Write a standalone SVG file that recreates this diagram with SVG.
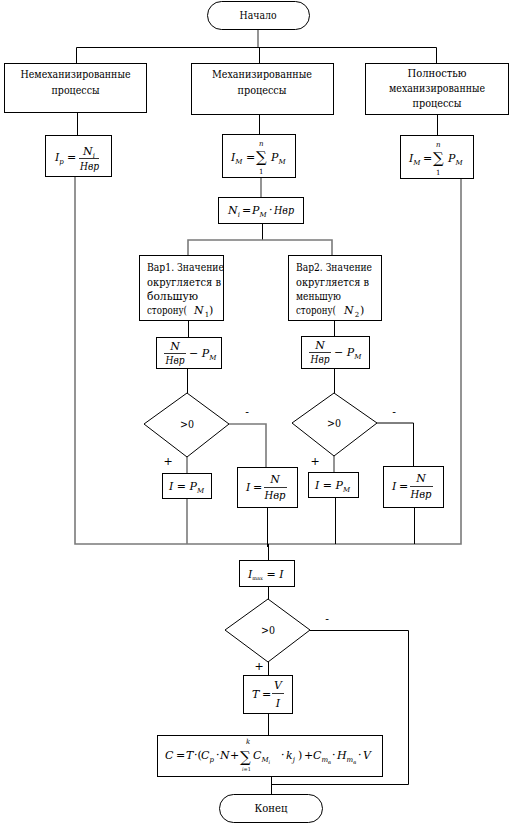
<svg xmlns="http://www.w3.org/2000/svg" width="518" height="829" viewBox="0 0 518 829">
<style>
text{font-family:"DejaVu Serif",serif;fill:#000}
.b{fill:#fff;stroke:#000;stroke-width:1}
.c{fill:none;stroke:#000;stroke-width:1}
.g{fill:none;stroke:#7a7a7a;stroke-width:1.6}
.t{font-size:11px}
.m{font-size:11px;font-style:italic}
.s{font-size:7px}
.r{font-style:normal}
.big{font-size:15px;font-style:normal}
.tiny{font-size:5px}
.fl{stroke:#000;stroke-width:0.8}
</style>
<rect width="518" height="829" fill="#fff"/>
<g id="connectors">
<path class="g" d="M258 29V48"/>
<path class="c" d="M76.5 47.5H436.5M76.5 47.5V63M259.5 47.5V63M436.5 47.5V63"/>
<path class="c" d="M77.5 112V135M259.5 114V134M437.5 114V135"/>
<path class="g" d="M75 176V544H461V178"/>
<path class="g" d="M261 177V197"/>
<path class="c" d="M262.5 223V240"/>
<path class="g" d="M188 255V240H332V255"/>
<path class="c" d="M188.5 320V337M334.5 320V336"/>
<path class="c" d="M187.5 368V393M334.5 368V393"/>
<path class="g" d="M229 424H266V467"/>
<path class="c" d="M377 423H413.5V466"/>
<path class="g" d="M187 457V473M334 456V472"/>
<path class="g" d="M187 498V544"/>
<path class="c" d="M267.5 507V547M335.5 497V544M414.5 507V544"/>
<path class="c" d="M268.5 544V560M268.5 586V599"/>
<path class="c" d="M310 630.5H408.5V784.5H271.5"/>
<path class="c" d="M268.5 662V675M268.5 713V735M271.5 776V794"/>
</g>
<g id="start">
<rect class="b" x="207.5" y="1.5" width="102" height="28" rx="14"/>
<text class="t" x="258" y="19" text-anchor="middle" textLength="37" lengthAdjust="spacingAndGlyphs">Начало</text>
</g>
<g id="box-nonmech">
<rect class="b" x="4.5" y="63.5" width="142" height="49"/>
<text class="t" x="75.5" y="78" text-anchor="middle" textLength="110" lengthAdjust="spacingAndGlyphs">Немеханизированные</text>
<text class="t" x="75.5" y="94" text-anchor="middle" textLength="48" lengthAdjust="spacingAndGlyphs">процессы</text>
</g>
<g id="box-mech">
<rect class="b" x="191.5" y="63.5" width="142" height="51"/>
<text class="t" x="262" y="78" text-anchor="middle" textLength="100" lengthAdjust="spacingAndGlyphs">Механизированные</text>
<text class="t" x="262" y="94" text-anchor="middle" textLength="49" lengthAdjust="spacingAndGlyphs">процессы</text>
</g>
<g id="box-fullmech">
<rect class="b" x="365.5" y="63.5" width="143" height="51"/>
<text class="t" x="437" y="77" text-anchor="middle" textLength="59" lengthAdjust="spacingAndGlyphs">Полностью</text>
<text class="t" x="437" y="92" text-anchor="middle" textLength="96" lengthAdjust="spacingAndGlyphs">механизированные</text>
<text class="t" x="437" y="107" text-anchor="middle" textLength="49" lengthAdjust="spacingAndGlyphs">процессы</text>
</g>
<g id="f-ip">
<rect class="b" x="45.5" y="135.5" width="66" height="41"/>
<text class="m" x="55" y="161">I<tspan class="s" dy="3">р</tspan></text>
<text class="m r" x="67" y="161">=</text>
<text class="m" x="83" y="155">N<tspan class="s" dy="3">i</tspan></text>
<line class="fl" x1="79" y1="158.5" x2="99" y2="158.5"/>
<text class="m" x="80" y="170" textLength="19" lengthAdjust="spacingAndGlyphs">Hвр</text>
</g>
<g id="f-im-mid">
<rect class="b" x="222.5" y="134.5" width="73" height="43"/>
<text class="m" x="231" y="161">I<tspan class="s" dy="3">M</tspan></text>
<text class="m r" x="246" y="161">=</text>
<text class="big" x="256" y="162">∑</text>
<text class="m s" x="259" y="146">n</text>
<text class="m s r" x="259" y="174">1</text>
<text class="m" x="271" y="161">P<tspan class="s" dy="3">M</tspan></text>
</g>
<g id="f-im-right">
<rect class="b" x="400.5" y="135.5" width="73" height="43"/>
<text class="m" x="409" y="162">I<tspan class="s" dy="3">M</tspan></text>
<text class="m r" x="423" y="162">=</text>
<text class="big" x="433" y="163">∑</text>
<text class="m s" x="436" y="147">n</text>
<text class="m s r" x="436" y="175">1</text>
<text class="m" x="448" y="162">P<tspan class="s" dy="3">M</tspan></text>
</g>
<g id="f-ni">
<rect class="b" x="218.5" y="197.5" width="85" height="26"/>
<text class="m" x="228" y="214">N<tspan class="s" dy="3">i</tspan></text>
<text class="m r" x="242" y="214">=</text>
<text class="m" x="252" y="214">P<tspan class="s" dy="3">M</tspan></text>
<text class="m r" x="269" y="214">·</text>
<text class="m" x="274" y="214" textLength="20" lengthAdjust="spacingAndGlyphs">Hвр</text>
</g>
<g id="var1">
<rect class="b" x="139.5" y="255.5" width="84" height="65"/>
<text class="t" x="147" y="271" textLength="77" lengthAdjust="spacingAndGlyphs">Вар1. Значение</text>
<text class="t" x="147" y="286" textLength="74" lengthAdjust="spacingAndGlyphs">округляется в</text>
<text class="t" x="147" y="300" textLength="51" lengthAdjust="spacingAndGlyphs">большую</text>
<text class="t" x="147" y="314" textLength="40" lengthAdjust="spacingAndGlyphs">сторону(</text>
<text class="m" x="194" y="314">N<tspan class="s r" dx="1" dy="3">1</tspan></text>
<text class="t" x="209" y="314">)</text>
</g>
<g id="var2">
<rect class="b" x="288.5" y="255.5" width="93" height="65"/>
<text class="t" x="296" y="271" textLength="76" lengthAdjust="spacingAndGlyphs">Вар2. Значение</text>
<text class="t" x="296" y="286" textLength="73" lengthAdjust="spacingAndGlyphs">округляется в</text>
<text class="t" x="296" y="300" textLength="45" lengthAdjust="spacingAndGlyphs">меньшую</text>
<text class="t" x="296" y="314" textLength="40" lengthAdjust="spacingAndGlyphs">сторону(</text>
<text class="m" x="344" y="314">N<tspan class="s r" dx="1" dy="3">2</tspan></text>
<text class="t" x="360" y="314">)</text>
</g>
<g id="f-diff-left">
<rect class="b" x="156.5" y="337.5" width="65" height="31"/>
<text class="m" x="175" y="350" text-anchor="middle">N</text>
<line class="fl" x1="164" y1="353.5" x2="186" y2="353.5"/>
<text class="m" x="175" y="364" text-anchor="middle" textLength="19" lengthAdjust="spacingAndGlyphs">Hвр</text>
<text class="m" x="189" y="357"><tspan class="r">−</tspan> P<tspan class="s" dy="3">M</tspan></text>
</g>
<g id="f-diff-right">
<rect class="b" x="301.5" y="336.5" width="68" height="32"/>
<text class="m" x="320" y="349" text-anchor="middle">N</text>
<line class="fl" x1="309" y1="352.5" x2="331" y2="352.5"/>
<text class="m" x="320" y="363" text-anchor="middle" textLength="19" lengthAdjust="spacingAndGlyphs">Hвр</text>
<text class="m" x="334" y="356"><tspan class="r">−</tspan> P<tspan class="s" dy="3">M</tspan></text>
</g>
<g id="dec-left">
<polygon class="b" points="187,393 229,424 187,457 144,424"/>
<text class="t" x="187" y="428" text-anchor="middle" textLength="14" lengthAdjust="spacingAndGlyphs">&gt;0</text>
<text class="t" x="168" y="465" text-anchor="middle">+</text>
<text class="t" x="247" y="416" text-anchor="middle">-</text>
</g>
<g id="dec-right">
<polygon class="b" points="334,393 377,423 334,456 292,423"/>
<text class="t" x="334" y="427" text-anchor="middle" textLength="14" lengthAdjust="spacingAndGlyphs">&gt;0</text>
<text class="t" x="315" y="465" text-anchor="middle">+</text>
<text class="t" x="394" y="416" text-anchor="middle">-</text>
</g>
<g id="f-ipm-left">
<rect class="b" x="162.5" y="473.5" width="49" height="25"/>
<text class="m" x="169" y="490">I<tspan class="r"> = </tspan>P<tspan class="s" dy="3">M</tspan></text>
</g>
<g id="f-in-left">
<rect class="b" x="237.5" y="467.5" width="60" height="40"/>
<text class="m" x="246" y="491">I</text>
<text class="m r" x="253" y="491">=</text>
<text class="m" x="275" y="483" text-anchor="middle">N</text>
<line class="fl" x1="264" y1="487.5" x2="287" y2="487.5"/>
<text class="m" x="275" y="499" text-anchor="middle" textLength="21" lengthAdjust="spacingAndGlyphs">Hвр</text>
</g>
<g id="f-ipm-right">
<rect class="b" x="308.5" y="472.5" width="50" height="25"/>
<text class="m" x="315" y="489">I<tspan class="r"> = </tspan>P<tspan class="s" dy="3">M</tspan></text>
</g>
<g id="f-in-right">
<rect class="b" x="383.5" y="466.5" width="60" height="41"/>
<text class="m" x="392" y="490">I</text>
<text class="m r" x="399" y="490">=</text>
<text class="m" x="421" y="482" text-anchor="middle">N</text>
<line class="fl" x1="410" y1="486.5" x2="433" y2="486.5"/>
<text class="m" x="421" y="498" text-anchor="middle" textLength="21" lengthAdjust="spacingAndGlyphs">Hвр</text>
</g>
<g id="f-imax">
<rect class="b" x="239.5" y="560.5" width="55" height="26"/>
<text class="m" x="248" y="578">I<tspan class="tiny r" dy="2">max</tspan><tspan dy="-2" class="r"> = </tspan>I</text>
</g>
<g id="dec-main">
<polygon class="b" points="268,599 310,630 268,662 225,630"/>
<text class="t" x="268" y="634" text-anchor="middle" textLength="14" lengthAdjust="spacingAndGlyphs">&gt;0</text>
<text class="t" x="259" y="670" text-anchor="middle">+</text>
<text class="t" x="327" y="623" text-anchor="middle">-</text>
</g>
<g id="f-t">
<rect class="b" x="243.5" y="675.5" width="49" height="38"/>
<text class="m" x="252" y="698">T</text>
<text class="m r" x="262" y="698">=</text>
<text class="m" x="278" y="689" text-anchor="middle">V</text>
<line class="fl" x1="272" y1="693.5" x2="284" y2="693.5"/>
<text class="m" x="278" y="707" text-anchor="middle">I</text>
</g>
<g id="f-c">
<rect class="b" x="157.5" y="735.5" width="225" height="41"/>
<text class="m" x="165" y="759">C</text>
<text class="m r" x="176" y="759">=</text>
<text class="m" x="186" y="759">T</text>
<text class="m r" x="194" y="759">·(</text>
<text class="m" x="201" y="759">C<tspan class="s" dy="3">р</tspan></text>
<text class="m r" x="216" y="759">·</text>
<text class="m" x="220" y="759">N</text>
<text class="m r" x="230" y="759">+</text>
<text class="big" x="240" y="762">∑</text>
<text class="m s" x="246" y="744">k</text>
<text class="m tiny" x="242" y="771">i<tspan class="r">=1</tspan></text>
<text class="m" x="253" y="759">C<tspan class="s" dy="3">M</tspan><tspan class="tiny" dy="2">i</tspan></text>
<text class="m r" x="281" y="759">·</text>
<text class="m" x="286" y="759">k<tspan class="s" dy="3">j</tspan></text>
<text class="m r" x="298" y="759">)</text>
<text class="m r" x="304" y="759">+</text>
<text class="m" x="313" y="759">C<tspan class="s" dy="3">т</tspan><tspan class="tiny" dy="2">в</tspan></text>
<text class="m r" x="332" y="759">·</text>
<text class="m" x="337" y="759">H<tspan class="s" dy="3">т</tspan><tspan class="tiny" dy="2">в</tspan></text>
<text class="m r" x="358" y="759">·</text>
<text class="m" x="363" y="759">V</text>
</g>
<g id="end">
<rect class="b" x="219.5" y="794.5" width="103" height="28" rx="14"/>
<text class="t" x="271" y="812" text-anchor="middle" textLength="33" lengthAdjust="spacingAndGlyphs">Конец</text>
</g>
</svg>
